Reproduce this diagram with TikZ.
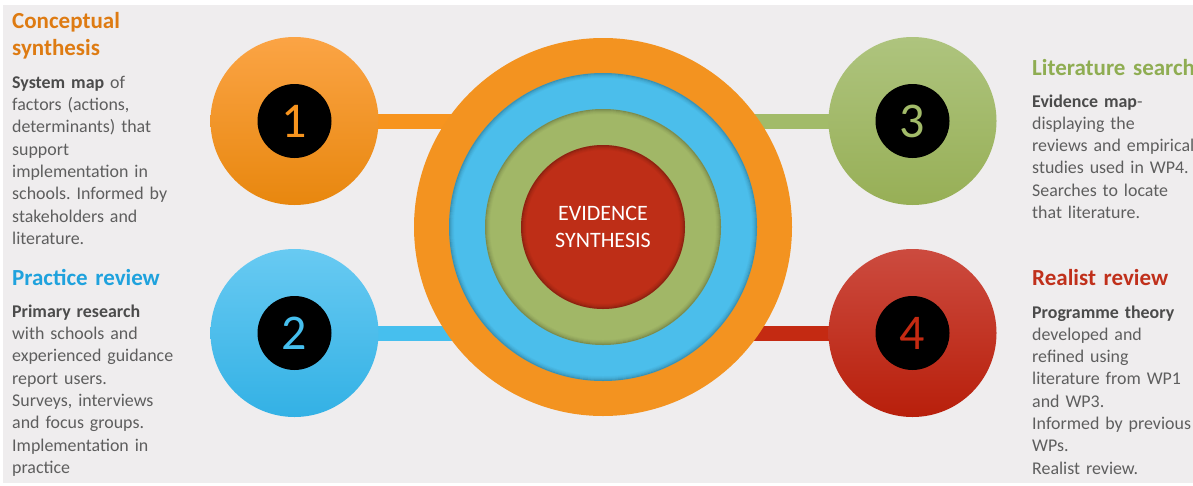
\documentclass[tikz,border=0pt]{standalone}
\usepackage{fontspec}
\setmainfont{Carlito}
\usetikzlibrary{calc}
\frenchspacing
\definecolor{bgc}{HTML}{EFEDEE}
\definecolor{ringO}{HTML}{F39320}
\definecolor{ringB}{HTML}{4BBEEB}
\definecolor{ringG}{HTML}{A1B767}
\definecolor{ringR}{HTML}{BE2E17}
\definecolor{oTop}{HTML}{FBA445}
\definecolor{oMid}{HTML}{F7941E}
\definecolor{oBot}{HTML}{E8870E}
\definecolor{bTop}{HTML}{68CAF2}
\definecolor{bMid}{HTML}{46BFEE}
\definecolor{bBot}{HTML}{33B1E5}
\definecolor{gTop}{HTML}{AEC47E}
\definecolor{gMid}{HTML}{A2BB69}
\definecolor{gBot}{HTML}{97AF56}
\definecolor{rTop}{HTML}{CC4B3F}
\definecolor{rMid}{HTML}{C42A12}
\definecolor{rBot}{HTML}{B81F0B}
\definecolor{hO}{HTML}{DE7B12}
\definecolor{hB}{HTML}{1FA2DD}
\definecolor{hG}{HTML}{8FAD52}
\definecolor{hR}{HTML}{C0301B}
\definecolor{txt}{HTML}{5E5E5E}
\definecolor{txtb}{HTML}{4B4B4B}
\pgfdeclarelayer{back}
\pgfdeclarelayer{bars}
\pgfsetlayers{back,bars,main}
\tikzset{
  smallc/.style={circle, inner sep=0pt, minimum size=168pt},
  numc/.style={circle, fill=black, inner sep=0pt, minimum size=74pt, font=\fontsize{50}{50}\selectfont},
  ring/.style={circle, inner sep=0pt},
  bar/.style={line width=15pt},
  head/.style={anchor=base west, inner sep=0pt, text width=300pt, align=left, font=\fontsize{23}{27}\selectfont\bfseries},
  body/.style={anchor=base west, inner sep=0pt, text width=300pt, align=left, text=txt, font=\fontsize{17.9}{22.3}\selectfont},
  shad/.style={draw=black, line width=1pt}
}
\newcommand{\bd}[1]{\textbf{\textcolor{txtb}{#1}}}
\begin{document}
\begin{tikzpicture}[x=1pt,y=-1pt]
\useasboundingbox (0,0) rectangle (1193,485);
\begin{pgfonlayer}{back}
\fill[white] (0,0) rectangle (1193,485);
\fill[bgc] (3,5) rectangle (1193,483);
\end{pgfonlayer}

% central rings
\node[ring, fill=ringO, minimum size=378pt] (ro) at (603,227) {};
\node[ring, fill=ringB, minimum size=308pt] (rb) at (603,227) {};
\foreach \d/\o in {0.5/0.22,1.5/0.14,2.5/0.09,3.5/0.05,4.5/0.025}
  \draw[shad, opacity=\o] (rb.center) circle[radius=154-\d];
\node[ring, fill=ringG, minimum size=236pt] (rg) at (603,227) {};
\foreach \d/\o in {0.5/0.22,1.5/0.14,2.5/0.09,3.5/0.05,4.5/0.025}
  \draw[shad, opacity=\o] (rg.center) circle[radius=118-\d];
\node[ring, fill=ringR, minimum size=164pt] (rr) at (603,227) {};
\foreach \d/\o in {0.5/0.25,1.5/0.16,2.5/0.1,3.5/0.06,4.5/0.03}
  \draw[shad, opacity=\o] (rr.center) circle[radius=82-\d];
\node[align=center, text=white, font=\fontsize{22}{26.5}\selectfont] (ev) at (rr.center) {EVIDENCE\\SYNTHESIS};

% satellite circles
\node[smallc, top color=oTop, middle color=oMid, bottom color=oBot] (c1) at (294.5,121) {};
\node[smallc, top color=bTop, middle color=bMid, bottom color=bBot] (c2) at (294.5,333) {};
\node[smallc, top color=gTop, middle color=gMid, bottom color=gBot] (c3) at (912.5,121) {};
\node[smallc, top color=rTop, middle color=rMid, bottom color=rBot] (c4) at (912.5,333) {};

\node[numc, text=oMid] (n1) at (c1.center) {1};
\node[numc, text=bMid] (n2) at (c2.center) {2};
\node[numc, text=gMid] (n3) at (c3.center) {3};
\node[numc, text=rMid] (n4) at (c4.center) {4};

% bars
\begin{pgfonlayer}{bars}
\draw[bar, draw=oMid] (c1.center) -- (c1.center -| ro.center);
\draw[bar, draw=bMid] (c2.center) -- (c2.center -| ro.center);
\draw[bar, draw=gMid] (c3.center) -- (c3.center -| ro.center);
\draw[bar, draw=rMid] (c4.center) -- (c4.center -| ro.center);
\end{pgfonlayer}

% texts left
\node[head, text=hO] (h1) at (12,28) {Conceptual\\synthesis};
\node[body] (t1) at (12,88.3) {\bd{System map} of\\factors (actions,\\determinants) that\\support\\implementation in\\schools. Informed by\\stakeholders and\\literature.};
\node[head, text=hB] (h2) at (12,285) {Practice review};
\node[body] (t2) at (12,317.3) {\bd{Primary research}\\with schools and\\experienced guidance\\report users.\\Surveys, interviews\\and focus groups.\\Implementation in\\practice};

% texts right
\node[head, text=hG] (h3) at (1032,75) {Literature search};
\node[body] (t3) at (1032,107) {\bd{Evidence map}-\\displaying the\\reviews and empirical\\studies used in WP4.\\Searches to locate\\that literature.};
\node[head, text=hR] (h4) at (1032,285) {Realist review};
\node[body] (t4) at (1032,318) {\bd{Programme theory}\\developed and\\refined using\\literature from WP1\\and WP3.\\Informed by previous\\WPs.\\Realist review.};
\end{tikzpicture}
\end{document}
